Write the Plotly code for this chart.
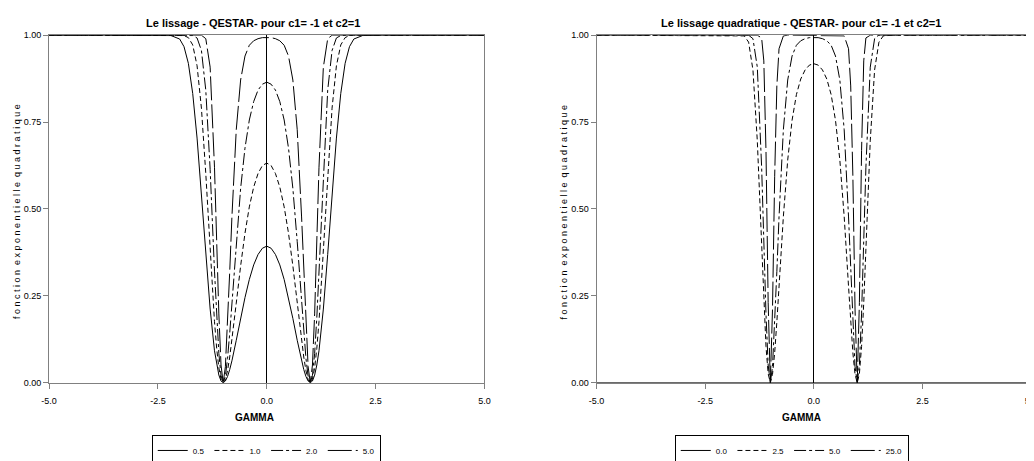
import plotly.graph_objects as go

# ---------------- data ----------------
X = [-5.0, -2.5, -2.2, -2.0, -1.9, -1.8, -1.7, -1.6, -1.5, -1.4, -1.3, -1.2, -1.15, -1.1, -1.05,
     -1.0, -0.95, -0.9, -0.85, -0.8, -0.7, -0.6, -0.5, -0.4, -0.3, -0.2, -0.1, 0.0,
     0.1, 0.2, 0.3, 0.4, 0.5, 0.6, 0.7, 0.8, 0.85, 0.9, 0.95, 1.0, 1.05, 1.1, 1.15, 1.2,
     1.3, 1.4, 1.5, 1.6, 1.7, 1.8, 1.9, 2.0, 2.2, 2.5, 5.0]

# left panel: gamma = 0.5, 1.0, 2.0, 5.0
L_G05 = [1.000, 1.000, 0.999, 0.989, 0.967, 0.919, 0.832, 0.704, 0.542, 0.369, 0.212, 0.092, 0.051, 0.022, 0.005,
         0.000, 0.005, 0.018, 0.038, 0.063, 0.122, 0.185, 0.245, 0.297, 0.339, 0.369, 0.387, 0.393,
         0.387, 0.369, 0.339, 0.297, 0.245, 0.185, 0.122, 0.063, 0.038, 0.018, 0.005, 0.000, 0.005, 0.022, 0.051, 0.092,
         0.212, 0.369, 0.542, 0.704, 0.832, 0.919, 0.967, 0.989, 0.999, 1.000, 1.000]
L_G10 = [1.000, 1.000, 1.000, 1.000, 0.999, 0.993, 0.972, 0.912, 0.790, 0.602, 0.379, 0.176, 0.099, 0.043, 0.010,
         0.000, 0.009, 0.035, 0.074, 0.122, 0.229, 0.336, 0.430, 0.506, 0.563, 0.602, 0.625, 0.632,
         0.625, 0.602, 0.563, 0.506, 0.430, 0.336, 0.229, 0.122, 0.074, 0.035, 0.009, 0.000, 0.010, 0.043, 0.099, 0.176,
         0.379, 0.602, 0.790, 0.912, 0.972, 0.993, 0.999, 1.000, 1.000, 1.000, 1.000]
L_G20 = [1.000, 1.000, 1.000, 1.000, 1.000, 1.000, 0.999, 0.992, 0.956, 0.842, 0.614, 0.321, 0.188, 0.084, 0.021,
         0.000, 0.019, 0.070, 0.143, 0.228, 0.406, 0.559, 0.675, 0.756, 0.809, 0.842, 0.859, 0.865,
         0.859, 0.842, 0.809, 0.756, 0.675, 0.559, 0.406, 0.228, 0.143, 0.070, 0.019, 0.000, 0.021, 0.084, 0.188, 0.321,
         0.614, 0.842, 0.956, 0.992, 0.999, 1.000, 1.000, 1.000, 1.000, 1.000, 1.000]
L_G50 = [1.000, 1.000, 1.000, 1.000, 1.000, 1.000, 1.000, 1.000, 1.000, 0.990, 0.908, 0.620, 0.405, 0.198, 0.051,
         0.000, 0.046, 0.165, 0.320, 0.477, 0.728, 0.871, 0.940, 0.971, 0.984, 0.990, 0.993, 0.993,
         0.993, 0.990, 0.984, 0.971, 0.940, 0.871, 0.728, 0.477, 0.320, 0.165, 0.046, 0.000, 0.051, 0.198, 0.405, 0.620,
         0.908, 0.990, 1.000, 1.000, 1.000, 1.000, 1.000, 1.000, 1.000, 1.000, 1.000]

# right panel: gamma = 0.0, 2.5, 5.0, 25.0
R_G00 = [0.000, 0.000, 0.000, 0.000, 0.000, 0.000, 0.000, 0.000, 0.000, 0.000, 0.000, 0.000, 0.000, 0.000, 0.000,
         0.000, 0.000, 0.000, 0.000, 0.000, 0.000, 0.000, 0.000, 0.000, 0.000, 0.000, 0.000, 0.000,
         0.000, 0.000, 0.000, 0.000, 0.000, 0.000, 0.000, 0.000, 0.000, 0.000, 0.000, 0.000, 0.000, 0.000, 0.000, 0.000,
         0.000, 0.000, 0.000, 0.000, 0.000, 0.000, 0.000, 0.000, 0.000, 0.000, 0.000]
R_G25 = [1.000, 1.000, 1.000, 1.000, 1.000, 1.000, 1.000, 0.998, 0.980, 0.900, 0.696, 0.384, 0.229, 0.104, 0.026,
         0.000, 0.024, 0.086, 0.175, 0.277, 0.478, 0.641, 0.755, 0.829, 0.874, 0.900, 0.914, 0.918,
         0.914, 0.900, 0.874, 0.829, 0.755, 0.641, 0.478, 0.277, 0.175, 0.086, 0.024, 0.000, 0.026, 0.104, 0.229, 0.384,
         0.696, 0.900, 0.980, 0.998, 1.000, 1.000, 1.000, 1.000, 1.000, 1.000, 1.000]
R_G50 = [1.000, 1.000, 1.000, 1.000, 1.000, 1.000, 1.000, 1.000, 1.000, 0.990, 0.908, 0.620, 0.405, 0.198, 0.051,
         0.000, 0.046, 0.165, 0.320, 0.477, 0.728, 0.871, 0.940, 0.971, 0.984, 0.990, 0.993, 0.993,
         0.993, 0.990, 0.984, 0.971, 0.940, 0.871, 0.728, 0.477, 0.320, 0.165, 0.046, 0.000, 0.051, 0.198, 0.405, 0.620,
         0.908, 0.990, 1.000, 1.000, 1.000, 1.000, 1.000, 1.000, 1.000, 1.000, 1.000]
R_G250 = [1.000, 1.000, 1.000, 1.000, 1.000, 1.000, 1.000, 1.000, 1.000, 1.000, 1.000, 0.992, 0.926, 0.668, 0.231,
          0.000, 0.212, 0.594, 0.854, 0.961, 0.998, 1.000, 1.000, 1.000, 1.000, 1.000, 1.000, 1.000,
          1.000, 1.000, 1.000, 1.000, 1.000, 1.000, 0.998, 0.961, 0.854, 0.594, 0.212, 0.000, 0.231, 0.668, 0.926, 0.992,
          1.000, 1.000, 1.000, 1.000, 1.000, 1.000, 1.000, 1.000, 1.000, 1.000, 1.000]

LEFT_NAMES = ["0.5", "1.0", "2.0", "5.0"]
RIGHT_NAMES = ["0.0", "2.5", "5.0", "25.0"]
X_TICKS = [-5.0, -2.5, 0.0, 2.5, 5.0]
X_TICKTEXT = ["-5.0", "-2.5", "0.0", "2.5", "5.0"]
Y_TICKS = [0.0, 0.25, 0.5, 0.75, 1.0]
Y_TICKTEXT = ["0.00", "0.25", "0.50", "0.75", "1.00"]
LEFT_TITLE = "Le lissage - QESTAR- pour c1= -1 et c2=1"
RIGHT_TITLE = "Le lissage quadratique - QESTAR- pour c1= -1 et c2=1"
X_TITLE = "GAMMA"
Y_TITLE = "f o n c t i o n  e x p o n e n t i e l l e  q u a d r a t i q u e"

# ---------------- styles ----------------
FONT = "Liberation Sans, Arial, sans-serif"
DASHES = ["solid", "5px,3px", "12px,3px,3px,3px", "24px,4px"]

fig = go.Figure()

left_series = [L_G05, L_G10, L_G20, L_G50]
right_series = [R_G00, R_G25, R_G50, R_G250]

for name, ys, dash in zip(LEFT_NAMES, left_series, DASHES):
    fig.add_trace(go.Scatter(x=X, y=ys, mode="lines", name=name,
                             line=dict(color="black", width=1, dash=dash),
                             xaxis="x", yaxis="y", legend="legend"))
for name, ys, dash in zip(RIGHT_NAMES, right_series, DASHES):
    fig.add_trace(go.Scatter(x=X, y=ys, mode="lines", name=name,
                             line=dict(color="black", width=1, dash=dash),
                             xaxis="x2", yaxis="y2", legend="legend2"))

W, H = 1034, 461
# calibration for the page offset / effective plot area
OX, SX, OY, SY = 16.0, 0.9855, 12.9, 0.974
def px(v): return ((v - OX) / SX) / W
def py(v): return 1 - ((v - OY) / SY) / H

axis_common = dict(showline=True, linecolor="#808080", linewidth=1, mirror=True,
                   ticks="outside", ticklen=5, tickcolor="#808080", showgrid=False,
                   tickfont=dict(family=FONT, size=9, color="black"))

xcommon = dict(axis_common, range=[-5, 5], tickvals=X_TICKS, ticktext=X_TICKTEXT,
               zeroline=True, zerolinecolor="black", zerolinewidth=1, ticklabelstandoff=4)
ycommon = dict(axis_common, range=[0, 1], tickvals=Y_TICKS, ticktext=Y_TICKTEXT, zeroline=False)

legend_common = dict(orientation="h", xanchor="center", yanchor="top",
                     bordercolor="black", borderwidth=1, bgcolor="white",
                     font=dict(family=FONT, size=8, color="black"),
                     itemwidth=30, tracegroupgap=0)

fig.update_layout(
    width=W, height=H, margin=dict(l=0, r=0, t=0, b=0),
    paper_bgcolor="white", plot_bgcolor="white",
    xaxis=dict(xcommon, domain=[px(49), px(484)], anchor="y"),
    yaxis=dict(ycommon, domain=[py(381), py(35)], anchor="x"),
    xaxis2=dict(xcommon, domain=[px(596), px(1030)], anchor="y2"),
    yaxis2=dict(ycommon, domain=[py(381), py(35)], anchor="x2"),
    legend=dict(legend_common, x=px(266), y=py(433)),
    legend2=dict(legend_common, x=px(791), y=py(433)),
    showlegend=True,
)

ann = []
for cx, title in [(253, LEFT_TITLE), (800, RIGHT_TITLE)]:
    ann.append(dict(text="<b>%s</b>" % title, x=px(cx), y=py(23), xref="paper", yref="paper",
                    showarrow=False, xanchor="center", yanchor="middle",
                    font=dict(family=FONT, size=11, color="black")))
    ann.append(dict(text="<b>%s</b>" % X_TITLE, x=px(cx + 1), y=py(416), xref="paper", yref="paper",
                    showarrow=False, xanchor="center", yanchor="middle",
                    font=dict(family=FONT, size=10, color="black")))
for cx in [17, 563]:
    ann.append(dict(text=Y_TITLE, x=px(cx), y=py(211), xref="paper", yref="paper",
                    showarrow=False, xanchor="center", yanchor="middle", textangle=-90,
                    font=dict(family=FONT, size=9, color="black")))
fig.update_layout(annotations=ann)

fig.write_html("out.html")
